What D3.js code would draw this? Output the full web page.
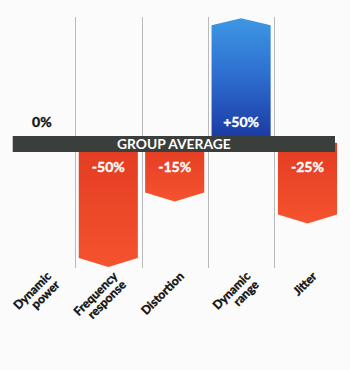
<!DOCTYPE html>
<html>
<head>
<meta charset="utf-8">
<script src="https://cdn.jsdelivr.net/npm/d3@7"></script>
<style>
  html, body { margin: 0; padding: 0; background: #fbfbfb; }
  svg { display: block; }
  text { font-family: Lato, "Open Sans", sans-serif; font-weight: 700; }
</style>
</head>
<body>
<svg id="chart" width="350" height="370"></svg>
<script>
// ---- data ----
const categories = ["Dynamic power", "Frequency response", "Distortion", "Dynamic range", "Jitter"];
const values = [0, -50, -15, 50, -25];
const valueLabels = ["0%", "-50%", "-15%", "+50%", "-25%"];
const bandLabel = "GROUP AVERAGE";
const valueDomain = [-50, 50];

// ---- layout ----
const svg = d3.select("#chart");

const xCol = d3.scaleBand().domain(categories).range([8.7, 340.7]);
const xBar = d3.scaleBand().domain(categories).range([8.7, 340.7])
  .paddingInner(0.11).paddingOuter(0.055);
const y = d3.scalePow().exponent(0.62).domain(valueDomain).range([267, 18.3]);

const y0 = y(0);
const data = categories.map((c, i) => ({ cat: c, value: values[i], label: valueLabels[i] }));

const defs = svg.append("defs");
const gRed = defs.append("linearGradient").attr("id", "gradRed")
  .attr("x1", 0).attr("y1", 0).attr("x2", 0).attr("y2", 1);
gRed.append("stop").attr("offset", "0%").attr("stop-color", "#e23b22");
gRed.append("stop").attr("offset", "100%").attr("stop-color", "#f5532f");
const gBlue = defs.append("linearGradient").attr("id", "gradBlue")
  .attr("x1", 0).attr("y1", 0).attr("x2", 0).attr("y2", 1);
gBlue.append("stop").attr("offset", "0%").attr("stop-color", "#3d97e4");
gBlue.append("stop").attr("offset", "45%").attr("stop-color", "#2e6fd0");
gBlue.append("stop").attr("offset", "100%").attr("stop-color", "#1a36a0");

// gridlines between columns
svg.append("g").selectAll("line")
  .data(categories.slice(1))
  .join("line")
  .attr("x1", d => Math.round(xCol(d)) + 0.5)
  .attr("x2", d => Math.round(xCol(d)) + 0.5)
  .attr("y1", 17).attr("y2", 268)
  .attr("stroke", "#b9b9b9").attr("stroke-width", 1);

// bars with arrow ends
function barPath(d) {
  const x0 = xBar(d.cat), x1 = x0 + xBar.bandwidth(), xm = (x0 + x1) / 2;
  const tip = y(d.value);
  const notch = d.value > 0 ? 7 : 9;
  const shoulder = d.value > 0 ? tip + notch : tip - notch;
  return `M${x0},${y0} L${x0},${shoulder} L${xm},${tip} L${x1},${shoulder} L${x1},${y0} Z`;
}
svg.append("g").selectAll("path")
  .data(data.filter(d => d.value !== 0))
  .join("path")
  .attr("d", barPath)
  .attr("fill", d => d.value > 0 ? "url(#gradBlue)" : "url(#gradRed)");

// group average band
const bandX0 = 12.7, bandX1 = 335;
svg.append("rect")
  .attr("x", bandX0).attr("y", 136)
  .attr("width", bandX1 - bandX0).attr("height", 16)
  .attr("fill", "#3a3f3c");
svg.append("text")
  .attr("x", (bandX0 + bandX1) / 2).attr("y", 149)
  .attr("text-anchor", "middle")
  .attr("font-size", 13.8)
  .attr("fill", "#ffffff")
  .text(bandLabel);

// value labels
svg.append("g").selectAll("text")
  .data(data)
  .join("text")
  .attr("x", d => xCol(d.cat) + xCol.bandwidth() / 2)
  .attr("y", d => d.value >= 0 ? y0 - 16 : y0 + 29)
  .attr("text-anchor", "middle")
  .attr("font-size", 14)
  .attr("font-weight", 900)
  .attr("fill", d => d.value === 0 ? "#111" : "#ffffff")
  .attr("stroke", d => d.value === 0 ? "#111" : "#ffffff")
  .attr("stroke-width", 0.35)
  .text(d => d.label);

// category labels (rotated)
const lab = svg.append("g").selectAll("text")
  .data(data)
  .join("text")
  .attr("transform", d => `translate(${xCol(d.cat) + xCol.bandwidth() / 2 + 10},${277}) rotate(-45)`)
  .attr("text-anchor", "end")
  .attr("font-size", 12)
  .attr("font-weight", 900)
  .attr("fill", "#111")
  .attr("stroke", "#111")
  .attr("stroke-width", 0.4);
lab.selectAll("tspan")
  .data(d => d.cat.split(" "))
  .join("tspan")
  .attr("x", 0)
  .attr("dy", (d, i) => i === 0 ? 0 : "1.0em")
  .text(d => d);
</script>
</body>
</html>
